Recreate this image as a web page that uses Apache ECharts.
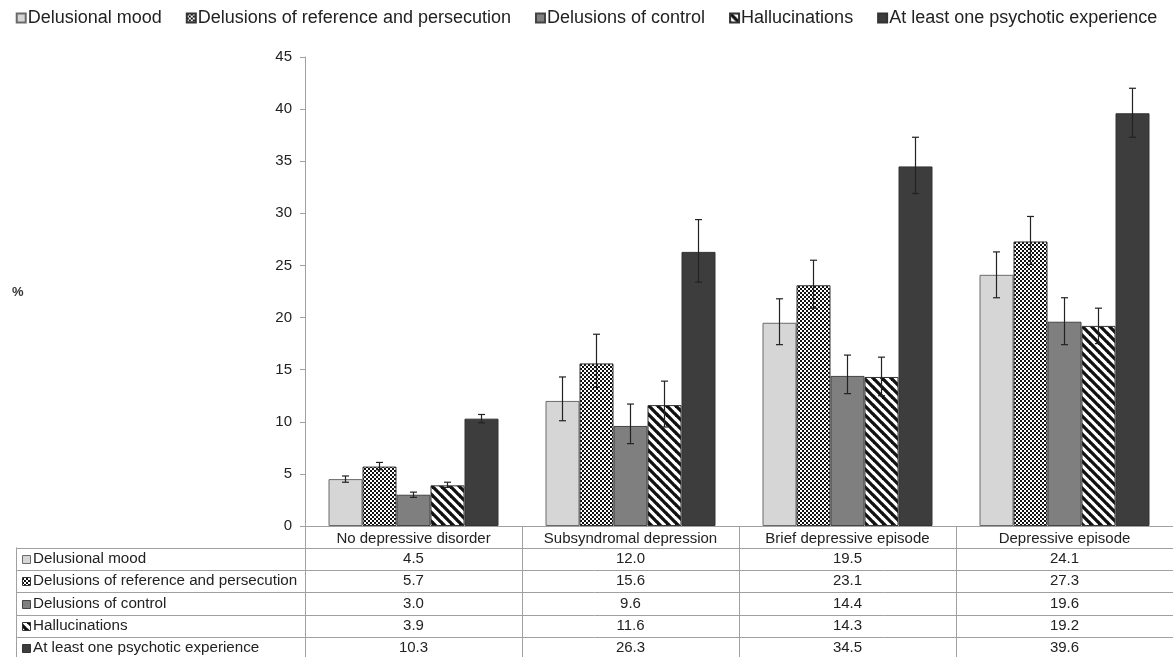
<!DOCTYPE html>
<html>
<head>
<meta charset="utf-8">
<script src="https://cdn.jsdelivr.net/npm/echarts@6/dist/echarts.min.js"></script>
<style>
  html, body { margin: 0; padding: 0; background: #fff; }
  #chart { width: 1173px; height: 657px; }
</style>
</head>
<body>
<div id="chart"></div>
<script>
// categories on the x axis
const categories = ['No depressive disorder', 'Subsyndromal depression', 'Brief depressive episode', 'Depressive episode'];
const seriesNames = ['Delusional mood', 'Delusions of reference and persecution', 'Delusions of control', 'Hallucinations', 'At least one psychotic experience'];

// bar values (%)
const delusionalMood = [4.5, 12.0, 19.5, 24.1];
const delusionsRefPers = [5.7, 15.6, 23.1, 27.3];
const delusionsControl = [3.0, 9.6, 14.4, 19.6];
const hallucinations = [3.9, 11.6, 14.3, 19.2];
const atLeastOne = [10.3, 26.3, 34.5, 39.6];

// error bar ends
const moodLow = [4.2, 10.1, 17.4, 21.9];
const moodHigh = [4.8, 14.3, 21.8, 26.3];
const refLow = [5.4, 13.3, 20.9, 25.1];
const refHigh = [6.1, 18.4, 25.5, 29.7];
const controlLow = [2.75, 7.9, 12.7, 17.4];
const controlHigh = [3.25, 11.7, 16.4, 21.9];
const hallLow = [3.7, 9.5, 12.5, 17.5];
const hallHigh = [4.2, 13.9, 16.2, 20.9];
const anyLow = [9.9, 23.4, 31.9, 37.3];
const anyHigh = [10.7, 29.4, 37.3, 42.0];

// y axis ticks
const yMin = 0, yMax = 45, yStep = 5;

const values = [delusionalMood, delusionsRefPers, delusionsControl, hallucinations, atLeastOne];
const lows = [moodLow, refLow, controlLow, hallLow, anyLow];
const highs = [moodHigh, refHigh, controlHigh, hallHigh, anyHigh];

const FONT = '"Liberation Sans", Arial, sans-serif';
const BAR_W = 34;

// canvas patterns for the black & white fills
function checkerPattern() {
  const c = document.createElement('canvas');
  c.width = 4; c.height = 4;
  const ctx = c.getContext('2d');
  ctx.fillStyle = '#fff';
  ctx.fillRect(0, 0, 4, 4);
  ctx.fillStyle = '#111';
  ctx.fillRect(0, 0, 2, 2);
  ctx.fillRect(2, 2, 2, 2);
  return {image: c, repeat: 'repeat'};
}

function stripePattern() {
  const s = 9;
  const c = document.createElement('canvas');
  c.width = s; c.height = s;
  const ctx = c.getContext('2d');
  ctx.fillStyle = '#fff';
  ctx.fillRect(0, 0, s, s);
  ctx.strokeStyle = '#111';
  ctx.lineWidth = 3.3;
  for (let k = -1; k <= 1; k++) {
    ctx.beginPath();
    ctx.moveTo(k * s - 1, -1);
    ctx.lineTo(k * s + s + 1, s + 1);
    ctx.stroke();
  }
  return {image: c, repeat: 'repeat'};
}

const fills = ['#d6d6d6', checkerPattern(), '#7f7f7f', stripePattern(), '#3d3d3d'];
const borders = ['#6a6a6a', '#333', '#444', '#333', '#333'];

const chart = echarts.init(document.getElementById('chart'));

const barSeries = seriesNames.map((name, i) => ({
  name: name,
  type: 'bar',
  data: values[i],
  barWidth: BAR_W,
  barGap: '0%',
  itemStyle: {color: fills[i], borderColor: borders[i], borderWidth: 1},
  emphasis: {disabled: true}
}));

const errData = [];
values.forEach((arr, s) => {
  arr.forEach((v, c) => errData.push([c, s, lows[s][c], highs[s][c]]));
});

const errSeries = {
  type: 'custom',
  name: 'err',
  data: errData,
  z: 10,
  renderItem: (params, api) => {
    const c = api.value(0);
    const s = api.value(1);
    const x = api.coord([c, 0])[0] + (s - 2) * BAR_W;
    const yl = api.coord([c, api.value(2)])[1];
    const yh = api.coord([c, api.value(3)])[1];
    const cap = 3.5;
    const st = {stroke: '#222', lineWidth: 1.2};
    return {
      type: 'group',
      children: [
        {type: 'line', shape: {x1: x, y1: yl, x2: x, y2: yh}, style: st},
        {type: 'line', shape: {x1: x - cap, y1: yh, x2: x + cap, y2: yh}, style: st},
        {type: 'line', shape: {x1: x - cap, y1: yl, x2: x + cap, y2: yl}, style: st}
      ]
    };
  }
};

const option = {
  animation: false,
  textStyle: {fontFamily: FONT},
  legend: {
    data: seriesNames,
    top: 4,
    left: 'center',
    icon: 'rect',
    itemWidth: 9,
    itemHeight: 9,
    itemGap: 24,
    textStyle: {fontSize: 18, color: '#222', fontFamily: FONT, padding: [0, 0, 0, -3]}
  },
  grid: {left: 305, right: -8, top: 57, bottom: 131},
  xAxis: {
    type: 'category',
    data: categories,
    axisLine: {lineStyle: {color: '#a0a0a0'}},
    axisTick: {show: false},
    axisLabel: {fontSize: 15, color: '#222', margin: 5, interval: 0}
  },
  yAxis: {
    type: 'value',
    min: yMin,
    max: yMax,
    interval: yStep,
    splitLine: {show: false},
    axisLine: {show: true, lineStyle: {color: '#a0a0a0'}},
    axisTick: {show: true, length: 5, lineStyle: {color: '#a0a0a0'}},
    axisLabel: {fontSize: 15, color: '#222', margin: 13}
  },
  series: [...barSeries, errSeries]
};

chart.setOption(option);

// data table under the chart
function buildTable() {
  const top = 526;
  const tableTop = 547.5;
  const rowH = 22.4;
  const left = 16;
  const W = 1173;
  const centers = categories.map((_, i) => chart.convertToPixel({xAxisIndex: 0}, i));
  const bounds = [305];
  for (let i = 1; i < centers.length; i++) bounds.push((centers[i - 1] + centers[i]) / 2);
  const els = [];
  const lineStyle = {stroke: '#a0a0a0', lineWidth: 1};

  // horizontal rules
  for (let r = 0; r <= seriesNames.length; r++) {
    const y = Math.round(tableTop + r * rowH) + 0.5;
    els.push({type: 'line', shape: {x1: left, y1: y, x2: W, y2: y}, style: lineStyle, silent: true});
  }
  // vertical rules
  els.push({type: 'line', shape: {x1: left + 0.5, y1: tableTop, x2: left + 0.5, y2: 657}, style: lineStyle, silent: true});
  bounds.forEach(b => {
    const x = Math.round(b) + 0.5;
    els.push({type: 'line', shape: {x1: x, y1: top, x2: x, y2: 657}, style: lineStyle, silent: true});
  });

  seriesNames.forEach((name, r) => {
    const cy = tableTop + (r + 0.5) * rowH;
    els.push({
      type: 'rect',
      shape: {x: 22.5, y: Math.round(cy - 4) + 0.5, width: 8, height: 8},
      style: {fill: fills[r], stroke: borders[r], lineWidth: 1},
      silent: true
    });
    els.push({
      type: 'text',
      x: 33, y: cy,
      style: {text: name, fontSize: 15.2, fontFamily: FONT, fill: '#222', verticalAlign: 'middle'},
      silent: true
    });
    values[r].forEach((v, c) => {
      els.push({
        type: 'text',
        x: centers[c], y: cy,
        style: {text: v.toFixed(1), fontSize: 15, fontFamily: FONT, fill: '#222', align: 'center', verticalAlign: 'middle'},
        silent: true
      });
    });
  });

  // y axis title
  els.push({
    type: 'text',
    x: 12, y: 292,
    style: {text: '%', fontSize: 13, fontWeight: 'bold', fontFamily: FONT, fill: '#333', verticalAlign: 'middle'},
    silent: true
  });

  chart.setOption({graphic: {elements: els}});
}

buildTable();
</script>
</body>
</html>
